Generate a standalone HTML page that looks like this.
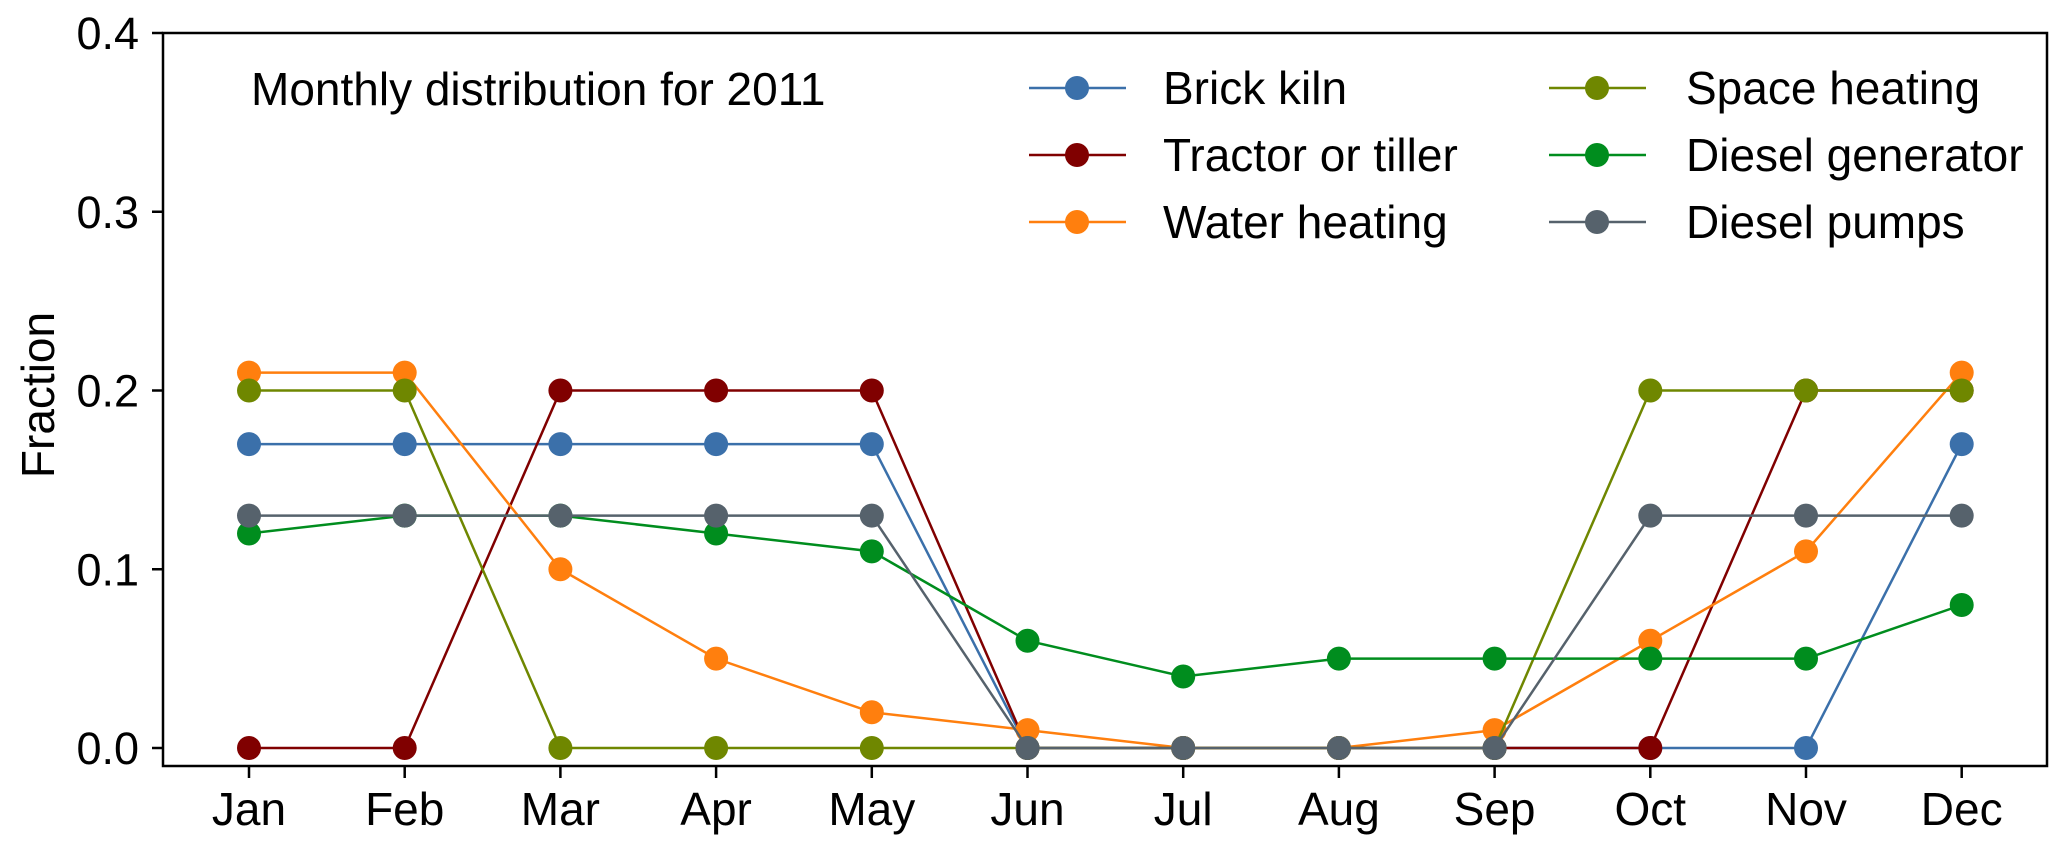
<!DOCTYPE html>
<html><head><meta charset="utf-8"><style>
html,body{margin:0;padding:0;background:#fff}
svg{display:block;font-family:"Liberation Sans",Arial,sans-serif}
</style></head><body>
<svg id="chart" width="2067" height="853" viewBox="0 0 2067 853">
<rect x="0" y="0" width="2067" height="853" fill="#fff"/>
<g id="plot"></g>
<g id="axes"></g>
<text x="251" y="105" font-size="46">Monthly distribution for 2011</text>
<text transform="translate(54,395) rotate(-90)" text-anchor="middle" font-size="46">Fraction</text>
<g id="legend"></g>
</svg>
<script>
const months = ["Jan","Feb","Mar","Apr","May","Jun","Jul","Aug","Sep","Oct","Nov","Dec"];
const yTicks = [0.0, 0.1, 0.2, 0.3, 0.4];
const yTickLabels = ["0.0","0.1","0.2","0.3","0.4"];
const seriesNames = ["Brick kiln","Tractor or tiller","Water heating","Space heating","Diesel generator","Diesel pumps"];
const brickKiln = [0.17,0.17,0.17,0.17,0.17,0,0,0,0,0,0,0.17];
const tractorTiller = [0,0,0.2,0.2,0.2,0,0,0,0,0,0.2,0.2];
const waterHeating = [0.21,0.21,0.1,0.05,0.02,0.01,0,0,0.01,0.06,0.11,0.21];
const spaceHeating = [0.2,0.2,0,0,0,0,0,0,0,0.2,0.2,0.2];
const dieselGenerator = [0.12,0.13,0.13,0.12,0.11,0.06,0.04,0.05,0.05,0.05,0.05,0.08];
const dieselPumps = [0.13,0.13,0.13,0.13,0.13,0,0,0,0,0.13,0.13,0.13];

const NS = "http://www.w3.org/2000/svg";
const colors = ["#3b70aa","#800000","#ff7f0e","#6f8700","#008d1e","#56626c"];
const allSeries = [brickKiln,tractorTiller,waterHeating,spaceHeating,dieselGenerator,dieselPumps];
const L=163, R=2047, T=33, B=766;
const x0=249, dx=155.7;
function xs(i){return x0+i*dx;}
function ys(v){return 748 - v/0.4*(748-33);}
function mk(tag, attrs, parent){const e=document.createElementNS(NS,tag);for(const k in attrs)e.setAttribute(k,attrs[k]);parent.appendChild(e);return e;}

const axes=document.getElementById('axes');
const frame = mk('rect',{x:L,y:T,width:R-L,height:B-T,fill:'none',stroke:'#000','stroke-width':2.5},axes);


yTicks.forEach((v,i)=>{
  const t=mk('line',{x1:L-11,x2:L,y1:ys(v),y2:ys(v),stroke:'#000','stroke-width':2.5},axes);
  
  
  const lb=mk('text',{x:139,y:ys(v)+16,'text-anchor':'end','font-size':45},axes);
  lb.textContent=yTickLabels[i];
  
  
});
months.forEach((m,i)=>{
  const t=mk('line',{x1:xs(i),x2:xs(i),y1:B,y2:B+12,stroke:'#000','stroke-width':2.5},axes);
  
  
  const lb=mk('text',{x:xs(i),y:825,'text-anchor':'middle','font-size':46},axes);
  lb.textContent=m;
  
  
});

const plot=document.getElementById('plot');
allSeries.forEach((s,k)=>{
  const g=mk('g',{},plot);
  
  
  const pl=mk('polyline',{points:s.map((v,i)=>xs(i)+','+ys(v)).join(' '),fill:'none',stroke:colors[k],'stroke-width':2.5},g);
  
  
  s.forEach((v,i)=>{
    const c=mk('circle',{cx:xs(i),cy:ys(v),r:12,fill:colors[k]},g);
    
    
  });
});

const legend=document.getElementById('legend');
const legendCols=[[1029,1163],[1549,1686]];
const legendRows=[88,155,222];
seriesNames.forEach((n,k)=>{
  const col=legendCols[Math.floor(k/3)], y=legendRows[k%3];
  const g=mk('g',{},legend);
  
  
  mk('line',{x1:col[0],x2:col[0]+97,y1:y,y2:y,stroke:colors[k],'stroke-width':2.5},g);
  mk('circle',{cx:col[0]+48,cy:y,r:12,fill:colors[k]},g);
  const t=mk('text',{x:col[1],y:y+16,'font-size':46},g);
  t.textContent=n;
});
</script>
</body></html>
